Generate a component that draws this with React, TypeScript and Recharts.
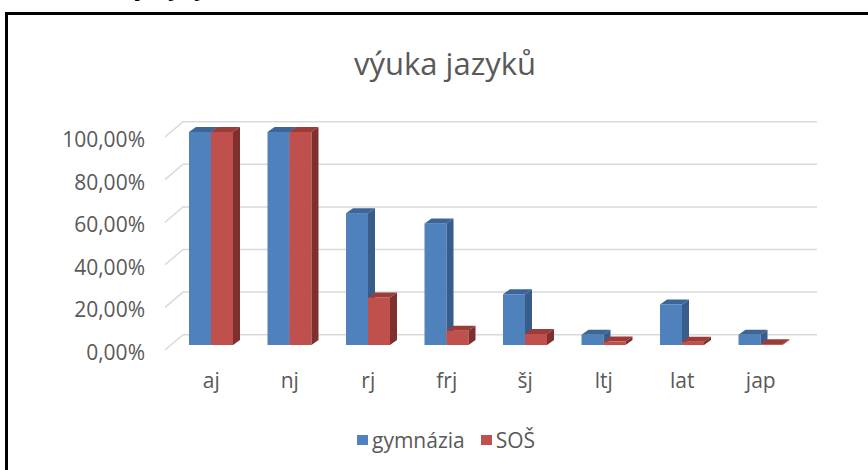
import React from "react";
import { BarChart, Bar, XAxis, YAxis, CartesianGrid } from "recharts";

const languages = ["aj", "nj", "rj", "frj", "šj", "ltj", "lat", "jap"];
const gymnazia = [100, 100, 61.9, 57.1, 23.8, 4.8, 19.0, 4.8];
const sos = [100, 100, 22.3, 6.7, 5.2, 1.6, 1.5, 0.4];
const yTicks = [0, 20, 40, 60, 80, 100];

const data = languages.map((name, i) => ({ name, gym: gymnazia[i], sos: sos[i] }));

const FONT = "'Open Sans', sans-serif";
const GREY = "#595959";
const DX = 7;
const DY = 5;

const fmtPct = (v: number) => `${v.toFixed(2).replace(".", ",")}%`;

function Box3D(colors: { front: string; side: string; top: string }) {
  return (props: any) => {
    const { x, y, width: w, height: h } = props;
    if (x == null || y == null) return null;
    return (
      <g>
        <rect x={x} y={y} width={w} height={Math.max(h, 0)} fill={colors.front} />
        <polygon
          points={`${x},${y} ${x + w},${y} ${x + w + DX},${y - DY} ${x + DX},${y - DY}`}
          fill={colors.top}
        />
        <polygon
          points={`${x + w},${y} ${x + w + DX},${y - DY} ${x + w + DX},${y + h - DY} ${x + w},${y + h}`}
          fill={colors.side}
        />
      </g>
    );
  };
}

const blueBox = Box3D({ front: "#4F81BD", side: "#385D8A", top: "#3C6699" });
const redBox = Box3D({ front: "#C0504D", side: "#7E302E", top: "#9C3C39" });

const gridLine = (p: any) => {
  const y = p.y1;
  return (
    <path
      key={p.key}
      d={`M165 ${y + 5} L183 ${y - 10.3} L817 ${y - 10.3}`}
      stroke="#D9D9D9"
      strokeWidth={1.5}
      fill="none"
    />
  );
};

const YTick = (p: any) => (
  <text x={145} y={p.y + 7} textAnchor="end" dominantBaseline="central" fontSize={21} fill={GREY} fontFamily={FONT}>
    {fmtPct(p.payload.value)}
  </text>
);

const XTick = (p: any) => (
  <text x={p.x} y={p.y + 27} textAnchor="middle" dominantBaseline="central" fontSize={21} fill={GREY} fontFamily={FONT}>
    {p.payload.value}
  </text>
);

export default function App() {
  return (
    <div style={{ position: "absolute", left: 0, top: 0, width: 868, height: 470, background: "#fff", overflow: "hidden" }}>
      <div
        style={{
          position: "absolute",
          left: 92,
          top: -31,
          fontFamily: FONT,
          fontWeight: 700,
          fontStyle: "italic",
          fontSize: 24,
          color: "#000",
          whiteSpace: "nowrap",
        }}
      >
        Cizí jazyky
      </div>
      <div
        style={{
          position: "absolute",
          left: 5,
          top: 12,
          width: 880,
          height: 480,
          borderLeft: "3px solid #000",
          borderTop: "3px solid #000",
        }}
      />
      <div
        style={{
          position: "absolute",
          left: 0,
          width: 890,
          top: 43,
          textAlign: "center",
          fontFamily: FONT,
          fontSize: 31,
          lineHeight: "40px",
          color: GREY,
        }}
      >
        výuka jazyků
      </div>
      <div style={{ position: "absolute", left: 0, top: 0 }}>
        <BarChart
          width={868}
          height={470}
          data={data}
          margin={{ top: 132, right: 68, bottom: 0, left: 0 }}
          barSize={22}
          barGap={0}
        >
          <CartesianGrid vertical={false} horizontal={gridLine} />
          <XAxis dataKey="name" axisLine={false} tickLine={false} tick={XTick} height={125} />
          <YAxis
            domain={[0, 100]}
            ticks={yTicks}
            width={172}
            axisLine={false}
            tickLine={false}
            tick={YTick}
          />
          <Bar dataKey="gym" name="gymnázia" shape={blueBox} isAnimationActive={false} />
          <Bar dataKey="sos" name="SOŠ" shape={redBox} isAnimationActive={false} />
        </BarChart>
      </div>
      <div
        style={{
          position: "absolute",
          left: 357,
          top: 425,
          display: "flex",
          alignItems: "center",
          fontFamily: FONT,
          fontSize: 21,
          lineHeight: "30px",
          color: GREY,
        }}
      >
        <span style={{ width: 11, height: 10, background: "#4F81BD", marginRight: 4 }} />
        <span style={{ marginRight: 16 }}>gymnázia</span>
        <span style={{ width: 11, height: 10, background: "#C0504D", marginRight: 4 }} />
        <span>SOŠ</span>
      </div>
    </div>
  );
}
